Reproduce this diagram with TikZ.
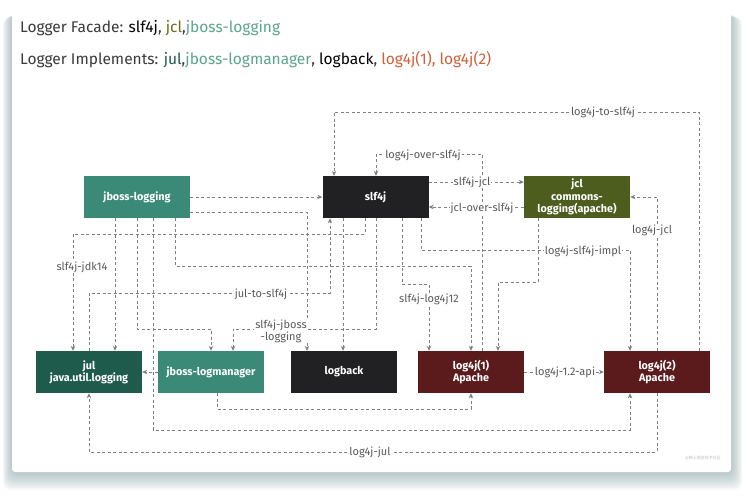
\documentclass[tikz,border=0pt]{standalone}
\usepackage{fontspec}
\setmainfont{Fira Sans}
\newfontfamily\cjk{Noto Sans CJK SC}
\usetikzlibrary{arrows.meta}
\definecolor{tealbox}{HTML}{3B8A77}
\definecolor{blackbox}{HTML}{212124}
\definecolor{olivebox}{HTML}{4D5D1E}
\definecolor{julbox}{HTML}{1F5B4D}
\definecolor{redbox}{HTML}{5B1B1D}
\definecolor{linec}{HTML}{808080}
\definecolor{labelc}{HTML}{595959}
\definecolor{shadowc}{HTML}{8FA7AB}
\definecolor{ttealc}{HTML}{5BA58E}
\definecolor{toliv}{HTML}{6B6B1E}
\definecolor{torange}{HTML}{D2603A}
\definecolor{tgray}{HTML}{3A3A3A}
\tikzset{
  box/.style={minimum width=106pt, minimum height=42pt, inner sep=0pt, text=white,
    font=\bfseries\fontsize{10.8}{12.3}\selectfont, align=center},
  conn/.style={draw=linec, line width=0.8pt, dash pattern=on 3pt off 2.5pt,
    -{Stealth[length=5pt,width=4.5pt]}},
  lbl/.style={fill=white, inner sep=1pt, text=labelc, font=\fontsize{11}{12}\selectfont, align=center},
}
\begin{document}
\begin{tikzpicture}[x=1pt,y=-1pt]
\useasboundingbox (0,0) rectangle (747,496);
\fill[white] (0,0) rectangle (747,496);
\foreach \i in {1,...,10} {
  \fill[shadowc, opacity=0.08, rounded corners=8] (12-\i*0.9, 12+\i*0.5) rectangle (731+\i*1.1, 472+\i*1.8);
}
\fill[white, rounded corners=3] (12,12) rectangle (731,472);

% titles
\node[anchor=west, inner sep=0pt, font=\fontsize{15.5}{18}\selectfont, text=tgray] (title1) at (20,28)
  {Logger Facade: \textcolor{black}{slf4j}, \textcolor{toliv}{jcl},\textcolor{ttealc}{jboss-logging}};
\node[anchor=west, inner sep=0pt, font=\fontsize{15.5}{18}\selectfont, text=tgray] (title2) at (20,60)
  {Logger Implements: \textcolor{julbox}{jul},\textcolor{ttealc}{jboss-logmanager}, \textcolor{black}{logback}, \textcolor{torange}{log4j(1), log4j(2)}};

% boxes
\node[box, fill=tealbox] (jbl) at (137,197) {jboss-logging};
\node[box, fill=blackbox] (slf) at (375.5,197) {slf4j};
\node[box, fill=olivebox] (jcl) at (577,197) {jcl\\commons-\\logging(apache)};
\node[box, fill=julbox] (jul) at (89,372) {jul\\java.util.logging};
\node[box, fill=tealbox] (jlm) at (211,372) {jboss-logmanager};
\node[box, fill=blackbox] (lb) at (344,372) {logback};
\node[box, fill=redbox] (l1) at (471,372) {log4j(1)\\Apache};
\node[box, fill=redbox] (l2) at (657,372) {log4j(2)\\Apache};

% connectors
\draw[conn] (l2.north -| 699,0) |- (334,112) -- (slf.north -| 334,0);
\draw[conn] (l1.north -| 482,0) |- (376,154) -- (slf.north -| 376,0);
\draw[conn] (slf.east |- 0,182) -- (jcl.west |- 0,182);
\draw[conn] (jcl.west |- 0,207) -- (slf.east |- 0,207);
\draw[conn] (l2.north -| 657,0) |- (jcl.east |- 0,197);
\draw[conn] (slf.south -| 421,0) |- (630,250) -- (l2.north -| 630,0);
\draw[conn] (jcl.south -| 538,0) |- (498,282) -- (l1.north -| 498,0);
\draw[conn] (slf.south -| 402,0) |- (429,284) -- (l1.north -| 429,0);
\draw[conn] (jbl.south -| 175,0) |- (471,266) -- (l1.north);
\draw[conn] (slf.south -| 376,0) |- (233,329) -- (jlm.north -| 233,0);
\draw[conn] (slf.south -| 365,0) |- (73,234) -- (jul.north -| 73,0);
\draw[conn] (jul.north) |- (330,293) -- (slf.south -| 330,0);
\draw[conn] (jbl.east |- 0,212) -| (lb.north -| 307,0);
\draw[conn] (jbl.east) -- (slf.west);
\draw[conn] (slf.south -| 343,0) -- (lb.north -| 343,0);
\draw[conn] (jbl.south -| 115,0) -- (jul.north -| 115,0);
\draw[conn] (jbl.south -| 137,0) |- (211,329) -- (jlm.north);
\draw[conn] (jbl.south -| 153,0) |- (630,430) -- (l2.south -| 630,0);
\draw[conn] (jlm.west) -- (jul.east);
\draw[conn] (jlm.south -| 217,0) |- (471,409) -- (l1.south);
\draw[conn] (l1.east) -- (l2.west);
\draw[conn] (l2.south) |- (89,452) -- (jul.south);

% labels
\node[lbl] (t1) at (603,112) {log4j-to-slf4j};
\node[lbl] (t2) at (423,155) {log4j-over-slf4j};
\node[lbl] (t3) at (472,182) {slf4j-jcl};
\node[lbl] (t4) at (482,208) {jcl-over-slf4j};
\node[lbl] (t5) at (652,230) {log4j-jcl};
\node[lbl] (t6) at (583,251) {log4j-slf4j-impl};
\node[lbl] (t7) at (429,299) {slf4j-log4j12};
\node[lbl] (t8) at (281,331) {slf4j-jboss\\-logging};
\node[lbl] (t9) at (82,267) {slf4j-jdk14};
\node[lbl] (t10) at (261,294) {jul-to-slf4j};
\node[lbl] (t11) at (565,372) {log4j-1.2-api};
\node[lbl] (t12) at (370,452) {log4j-jul};
\node[text=black!25, font=\cjk\fontsize{4}{5}\selectfont, inner sep=0pt] (wm) at (703,458) {@稀土掘金技术社区};
\end{tikzpicture}
\end{document}
